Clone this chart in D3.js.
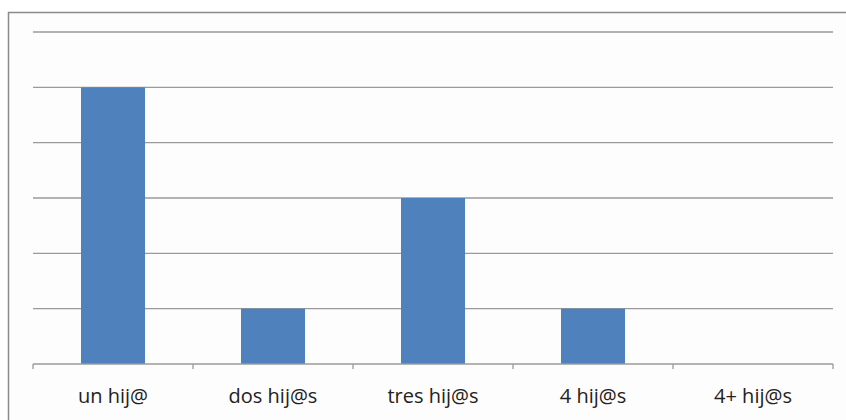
<!DOCTYPE html>
<html><head><meta charset="utf-8">
<script src="https://cdn.jsdelivr.net/npm/d3@7"></script>
<style>html,body{margin:0;padding:0;background:#fff;overflow:hidden}</style>
</head><body><svg id="c" width="846" height="420"></svg>
<script>
const categories = ["un hij@", "dos hij@s", "tres hij@s", "4 hij@s", "4+ hij@s"];
const values = [5, 1, 3, 1, 0];
const yTicks = [0, 1, 2, 3, 4, 5, 6];

const svg = d3.select("#c");
svg.append("rect").attr("x", 0).attr("y", 0).attr("width", 846).attr("height", 420).attr("fill", "#fff");
svg.append("rect").attr("x", 8.5).attr("y", 12.5).attr("width", 860).attr("height", 440)
  .attr("fill", "#fdfdfd").attr("stroke", "#8a8a8a").attr("stroke-width", 1.5);

const m = {left: 33, right: 833, top: 32, bottom: 364};
const x = d3.scaleBand().domain(categories).range([m.left, m.right]).paddingInner(0.6).paddingOuter(0.3);
const xOuter = d3.scaleBand().domain(categories).range([m.left, m.right]);
const y = d3.scaleLinear().domain([0, 6]).range([m.bottom, m.top]);

svg.append("g").selectAll("line").data(yTicks.filter(t => t > 0)).join("line")
  .attr("x1", m.left).attr("x2", m.right).attr("y1", d => y(d)).attr("y2", d => y(d))
  .attr("stroke", "#9a9a9a").attr("stroke-width", 1.3);

svg.append("g").selectAll("rect").data(values).join("rect")
  .attr("x", (d, i) => x(categories[i])).attr("width", x.bandwidth())
  .attr("y", d => y(d)).attr("height", d => y(0) - y(d))
  .attr("fill", "#4f81bd");

// baseline + ticks between categories
const g = svg.append("g");
g.append("line").attr("x1", m.left).attr("x2", m.right).attr("y1", y(0)).attr("y2", y(0))
  .attr("stroke", "#9a9a9a").attr("stroke-width", 1.3);
const edges = categories.map(c => xOuter(c)).concat([m.right]);
g.selectAll("line.t").data(edges).join("line").attr("class", "t")
  .attr("x1", d => d).attr("x2", d => d).attr("y1", y(0)).attr("y2", y(0) + 5)
  .attr("stroke", "#9a9a9a").attr("stroke-width", 1.3);

g.selectAll("text").data(categories).join("text")
  .attr("x", d => xOuter(d) + xOuter.bandwidth() / 2).attr("y", 403)
  .attr("text-anchor", "middle").attr("font-family", "'Open Sans', sans-serif")
  .attr("font-size", 20).attr("fill", "#222").text(d => d);
</script></body></html>
